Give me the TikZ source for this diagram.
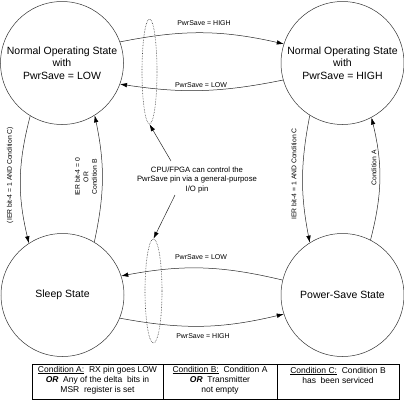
\documentclass[tikz,border=0pt]{standalone}
\usepackage{fontspec}
\setmainfont{Liberation Sans}
\usetikzlibrary{arrows.meta,shapes.geometric}
\begin{document}
\begin{tikzpicture}[x=1pt,y=1pt,
  state/.style={circle,draw=black!80,line width=0.5pt,minimum size=123pt,inner sep=0pt,align=center,font=\fontsize{10.5}{12.5}\selectfont},
  conn/.style={draw=black!85,line width=0.5pt,-{Latex[length=7pt,width=4.5pt,color=black]}},
  lbl/.style={font=\fontsize{7}{8.5}\selectfont,inner sep=0pt},
  vlbl/.style={font=\fontsize{6.8}{8.5}\selectfont,inner sep=0pt,rotate=90,align=center},
  dots/.style={ellipse,draw=black!75,densely dotted,line width=0.6pt,inner sep=0pt},
  cell/.style={font=\fontsize{8.5}{10}\selectfont,align=center,inner sep=0pt},
  note/.style={font=\fontsize{7.7}{9.7}\selectfont,align=center,inner sep=0pt},
  tab/.style={draw=black,line width=0.8pt}]
\useasboundingbox (0,0) rectangle (404,-400);
% states
\node[state] (tl) at (62,-63) {Normal Operating State\\with\\PwrSave = LOW};
\node[state] (tr) at (342.5,-63) {Normal Operating State\\with\\PwrSave = HIGH};
\node[state] (sl) at (62.5,-295) {Sleep State};
\node[state] (ps) at (342.5,-295) {Power-Save State};
% horizontal transitions
\draw[conn] (tl.20) to[bend left=12] (tr.162);
\draw[conn] (tr.196) to[bend left=10] (tl.340);
\draw[conn] (ps.166) to[bend right=12] (sl.18);
\draw[conn] (sl.338) to[bend right=12] (ps.198);
% vertical transitions
\draw[conn] (tl.239) to[bend right=14] (sl.123);
\draw[conn] (sl.59) to[bend right=12] (tl.302);
\draw[conn] (tr.238) to[bend right=11] (ps.122);
\draw[conn] (ps.63) to[bend right=14] (tr.298);
% labels
\node[lbl] (l1) at (204,-23) {PwrSave = HIGH};
\node[lbl] (l2) at (201,-85) {PwrSave = LOW};
\node[lbl] (l3) at (201,-257) {PwrSave = LOW};
\node[lbl] (l4) at (203,-336) {PwrSave = HIGH};
\node[vlbl] (v1) at (10,-175) {(IER bit-4 = 1 AND Condition C)};
\node[vlbl] (v2) at (86,-177) {IER bit-4 = 0\\OR\\Condition B};
\node[vlbl] (v3) at (294,-174) {IER bit-4 = 1 AND Condition C};
\node[vlbl] (v4) at (374,-168) {Condition A};
% pin note
\node[dots,minimum width=15pt,minimum height=105pt] (e1) at (149.5,-71.5) {};
\node[dots,minimum width=17pt,minimum height=104pt] (e2) at (153.5,-291) {};
\node[note] (cpu) at (197,-180) {CPU/FPGA can control the\\PwrSave pin via a general-purpose\\I/O pin};
\coordinate (c1) at (171,-161);
\coordinate (c2) at (175,-195);
\draw[conn] (c1) -- (e1.south);
\draw[conn] (c2) -- (e2.north);
% table
\draw[tab] (32,-364) rectangle (399,-399);
\draw[tab] (163,-364) -- (163,-399);
\draw[tab] (277,-364) -- (277,-399);
\node[cell] (ca) at (97.5,-380) {\underline{Condition A:}\ \ RX pin goes LOW\\\textbf{\textit{OR}}\ \ Any of the delta\ \ bits in\\MSR\ \ register is set};
\node[cell] (cb) at (220,-380) {\underline{Condition B:}\ \ Condition A\\\textbf{\textit{OR}}\ \ Transmitter\\not empty};
\node[cell] (cc) at (338,-375) {\underline{Condition C:}\ \ Condition B\\has\ \ been serviced};
\end{tikzpicture}
\end{document}
